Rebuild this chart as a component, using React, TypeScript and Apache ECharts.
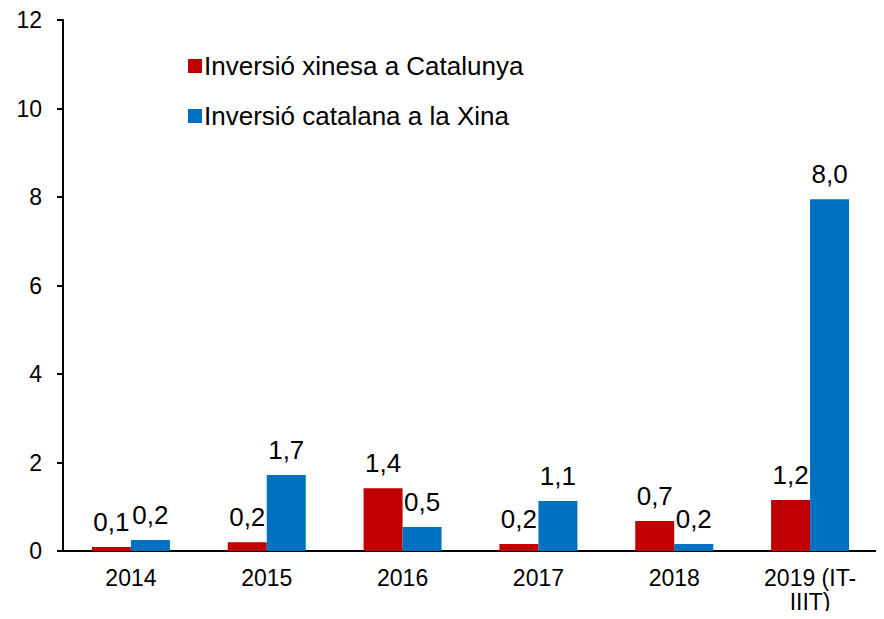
import React, { useEffect, useRef } from "react";
import * as echarts from "echarts";

const categories = ["2014", "2015", "2016", "2017", "2018", "2019 (IT-IIIT)"];
const chineseInCatalonia = [0.09, 0.2, 1.42, 0.16, 0.68, 1.15];
const catalanInChina = [0.25, 1.72, 0.54, 1.13, 0.16, 7.95];
const chineseLabels = ["0,1", "0,2", "1,4", "0,2", "0,7", "1,2"];
const catalanLabels = ["0,2", "1,7", "0,5", "1,1", "0,2", "8,0"];
const seriesNames = ["Inversió xinesa a Catalunya", "Inversió catalana a la Xina"];

const FONT = "'Liberation Sans', Arial, sans-serif";

export default function App() {
  const ref = useRef<HTMLDivElement>(null);
  useEffect(() => {
    if (!ref.current) return;
    const chart = echarts.init(ref.current, null, { renderer: "svg" });
    chart.setOption({
      animation: false,
      textStyle: { fontFamily: FONT, color: "#000" },
      grid: { left: 63, right: 6, top: 20, bottom: 68 },
      legend: {
        orient: "vertical",
        left: 183,
        top: 48,
        itemWidth: 14,
        itemHeight: 14,
        itemGap: 24,
        icon: "rect",
        textStyle: { fontSize: 26, fontFamily: FONT, color: "#000", padding: [0, 0, 0, -3] },
        data: seriesNames,
      },
      xAxis: {
        type: "category",
        data: categories,
        axisLine: { lineStyle: { color: "#000", width: 2 } },
        axisTick: { show: false },
        axisLabel: {
          fontSize: 23,
          color: "#000",
          fontFamily: FONT,
          margin: 15,
          lineHeight: 24,
          formatter: (v: string) => v.replace("IT-", "IT-\n"),
        },
      },
      yAxis: {
        type: "value",
        min: 0,
        max: 12,
        interval: 2,
        splitLine: { show: false },
        axisLine: { show: true, lineStyle: { color: "#000", width: 2 } },
        axisTick: { show: true, length: 6, lineStyle: { color: "#000", width: 2 } },
        axisLabel: { fontSize: 23, color: "#000", fontFamily: FONT, margin: 21 },
      },
      series: [
        {
          name: seriesNames[0],
          type: "bar",
          data: chineseInCatalonia,
          barWidth: 39,
          barGap: "0%",
          itemStyle: { color: "#C00000" },
          label: {
            show: true,
            position: "top",
            distance: 12,
            fontSize: 26,
            color: "#000",
            fontFamily: FONT,
            formatter: (p: any) => chineseLabels[p.dataIndex],
          },
        },
        {
          name: seriesNames[1],
          type: "bar",
          data: catalanInChina,
          barWidth: 39,
          barGap: "0%",
          itemStyle: { color: "#0070C0" },
          label: {
            show: true,
            position: "top",
            distance: 12,
            fontSize: 26,
            color: "#000",
            fontFamily: FONT,
            formatter: (p: any) => catalanLabels[p.dataIndex],
          },
        },
      ],
    });
    return () => chart.dispose();
  }, []);
  return <div ref={ref} style={{ width: 884, height: 619, margin: -8 }} />;
}
